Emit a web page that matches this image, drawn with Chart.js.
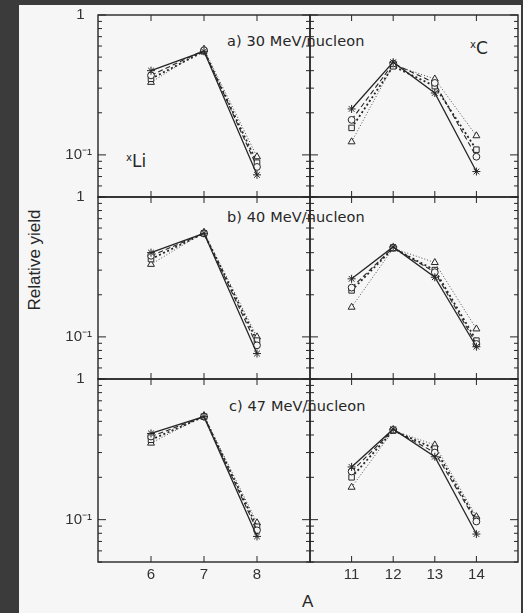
<!DOCTYPE html>
<html>
<head>
<meta charset="utf-8">
<script src="https://cdn.jsdelivr.net/npm/chart.js@4.4.0/dist/chart.umd.min.js"></script>
<style>
  html, body { margin: 0; padding: 0; width: 523px; height: 613px; overflow: hidden; background: #3b3b3b; }
  #page { position: absolute; left: 19px; top: 5px; width: 502px; height: 608px; background: #f6f6f6; }
  canvas { position: absolute; }
  .lbl { position: absolute; font-family: "DejaVu Sans", sans-serif; color: #262626; white-space: nowrap; }
  .lbl sup { font-size: 60%; vertical-align: 0.6em; }
  .panel { font-size: 14.5px; letter-spacing: 0.1px; }
</style>
</head>
<body>
<div id="page"></div>

<div class="lbl panel" style="left:227px;top:33px">a) 30 MeV/nucleon</div>
<div class="lbl panel" style="left:227px;top:209px">b) 40 MeV/nucleon</div>
<div class="lbl panel" style="left:229px;top:398px">c) 47 MeV/nucleon</div>
<div class="lbl" style="left:126px;top:151px;font-size:17px"><sup>x</sup>Li</div>
<div class="lbl" style="left:470px;top:38px;font-size:17px"><sup>x</sup>C</div>
<div class="lbl" style="left:-20px;top:250px;width:110px;text-align:center;font-family:'Liberation Sans';font-size:17px;transform:rotate(-90deg)">Relative yield</div>
<div class="lbl" style="left:302px;top:592px;font-family:'Liberation Sans';font-size:17px">A</div>

<script>
// mass numbers on the x axes
const liMass = [6, 7, 8];
const cMass = [11, 12, 13, 14];

// y axis ticks (log scale)
const yMajorTicks = [0.1, 1];
const yTickLabels = ["10\u207B\u00B9", "1\u2002"];
const yMinorTicks = [0.05, 0.06, 0.07, 0.08, 0.09, 0.2, 0.3, 0.4, 0.5, 0.6, 0.7, 0.8, 0.9];

// series order: star, circle, square, triangle
// Li isotopes
const li30Star = [0.40, 0.55, 0.072];
const li30Circle = [0.37, 0.56, 0.082];
const li30Square = [0.35, 0.55, 0.088];
const li30Triangle = [0.33, 0.57, 0.097];

const li40Star = [0.40, 0.55, 0.076];
const li40Circle = [0.38, 0.55, 0.087];
const li40Square = [0.36, 0.55, 0.094];
const li40Triangle = [0.33, 0.56, 0.100];

const li47Star = [0.41, 0.54, 0.076];
const li47Circle = [0.39, 0.54, 0.084];
const li47Square = [0.37, 0.54, 0.089];
const li47Triangle = [0.35, 0.55, 0.095];

// C isotopes
const c30Star = [0.213, 0.46, 0.277, 0.076];
const c30Circle = [0.178, 0.45, 0.327, 0.097];
const c30Square = [0.156, 0.43, 0.310, 0.109];
const c30Triangle = [0.124, 0.44, 0.349, 0.137];

const c40Star = [0.26, 0.44, 0.267, 0.085];
const c40Circle = [0.225, 0.435, 0.29, 0.089];
const c40Square = [0.215, 0.43, 0.30, 0.094];
const c40Triangle = [0.163, 0.43, 0.34, 0.114];

const c47Star = [0.237, 0.44, 0.28, 0.079];
const c47Circle = [0.22, 0.435, 0.30, 0.097];
const c47Square = [0.20, 0.43, 0.32, 0.100];
const c47Triangle = [0.17, 0.43, 0.34, 0.105];

const ink = "#262626";
const tickFont = { family: "Liberation Sans", size: 15 };

const seriesStyles = [
  { pointStyle: "star", dash: [], width: 1.3, fill: ink, r: 4 },
  { pointStyle: "circle", dash: [5, 3], width: 1.1, fill: "#f6f6f6", r: 3.4 },
  { pointStyle: "rect", dash: [2, 2.5], width: 1.8, fill: "#f6f6f6", r: 3.9 },
  { pointStyle: "triangle", dash: [1, 2], width: 0.8, fill: "#f6f6f6", r: 4 }
];

// frame with inward ticks on all four sides
const framePlugin = {
  id: "frame",
  afterDraw(chart, args, opts) {
    const { ctx, chartArea: a } = chart;
    const x = chart.scales.x, y = chart.scales.y;
    const line = (x1, y1, x2, y2) => { ctx.beginPath(); ctx.moveTo(x1, y1); ctx.lineTo(x2, y2); ctx.stroke(); };
    ctx.save();
    ctx.strokeStyle = ink;
    ctx.lineWidth = 1.4;
    ctx.strokeRect(a.left, a.top, a.right - a.left, a.bottom - a.top);
    ctx.lineWidth = 1;
    const yTick = (v, len) => {
      const py = y.getPixelForValue(v);
      line(a.left, py, a.left + len, py);
      line(a.right, py, a.right - len, py);
    };
    yMajorTicks.forEach(v => yTick(v, 8));
    yMinorTicks.forEach(v => yTick(v, 4));
    opts.xTicks.forEach(v => {
      const px = x.getPixelForValue(v);
      line(px, a.top, px, a.top + 6);
      line(px, a.bottom, px, a.bottom - 6);
    });
    ctx.restore();
  }
};

function makePanel(p) {
  const cv = document.createElement("canvas");
  cv.width = p.w; cv.height = p.h;
  cv.style.left = p.left + "px";
  cv.style.top = p.top + "px";
  document.body.appendChild(cv);

  new Chart(cv, {
    type: "line",
    data: {
      datasets: p.series.map((vals, i) => ({
        data: p.mass.map((m, j) => ({ x: m, y: vals[j] })),
        borderColor: ink,
        backgroundColor: ink,
        borderWidth: seriesStyles[i].width,
        borderDash: seriesStyles[i].dash,
        pointStyle: seriesStyles[i].pointStyle,
        pointRadius: seriesStyles[i].r,
        pointBorderWidth: 1,
        pointBorderColor: ink,
        pointBackgroundColor: seriesStyles[i].fill,
        tension: 0
      }))
    },
    options: {
      responsive: false,
      animation: false,
      devicePixelRatio: 1,
      layout: { padding: p.padding },
      plugins: {
        legend: { display: false },
        tooltip: { enabled: false },
        frame: { xTicks: p.mass }
      },
      scales: {
        x: {
          type: "linear",
          min: p.xMin, max: p.xMax,
          display: p.showX,
          grid: { display: false, drawTicks: false },
          border: { display: false },
          ticks: { font: { family: "Liberation Sans", size: 15 }, color: "#333", padding: 4 },
          afterBuildTicks: s => { s.ticks = p.mass.map(v => ({ value: v })); },
          afterFit: s => { s.height = p.showX ? 28 : 0; }
        },
        y: {
          type: "logarithmic",
          min: 0.05, max: 1,
          display: p.showY,
          grid: { display: false, drawTicks: false },
          border: { display: false },
          ticks: {
            font: tickFont, color: "#333", padding: 6,
            callback: v => { const k = yMajorTicks.indexOf(v); return k < 0 ? "" : yTickLabels[k]; }
          },
          afterBuildTicks: s => { s.ticks = yMajorTicks.map(v => ({ value: v })); },
          afterFit: s => { s.width = p.showY ? 79 : 0; }
        }
      }
    },
    plugins: [framePlugin]
  });
}

const rowTops = [15, 197, 379];
const rowHeights = [182, 182, 183];
const liRows = [
  [li30Star, li30Circle, li30Square, li30Triangle],
  [li40Star, li40Circle, li40Square, li40Triangle],
  [li47Star, li47Circle, li47Square, li47Triangle]
];
const cRows = [
  [c30Star, c30Circle, c30Square, c30Triangle],
  [c40Star, c40Circle, c40Square, c40Triangle],
  [c47Star, c47Circle, c47Square, c47Triangle]
];

const pad = 20;
rowTops.forEach((top, r) => {
  const last = r === rowTops.length - 1;
  const h = pad + rowHeights[r] + (last ? 28 : 0) + pad;
  makePanel({
    left: 98 - 79, top: top - pad, w: 79 + 212 + pad, h: h,
    padding: { left: 0, right: pad, top: pad, bottom: pad },
    mass: liMass, xMin: 5, xMax: 9, showX: last, showY: true,
    series: liRows[r]
  });
  makePanel({
    left: 310 - pad, top: top - pad, w: pad + 208 + 5, h: h,
    padding: { left: pad, right: 5, top: pad, bottom: pad },
    mass: cMass, xMin: 10, xMax: 15, showX: last, showY: false,
    series: cRows[r]
  });
});
</script>
</body>
</html>
